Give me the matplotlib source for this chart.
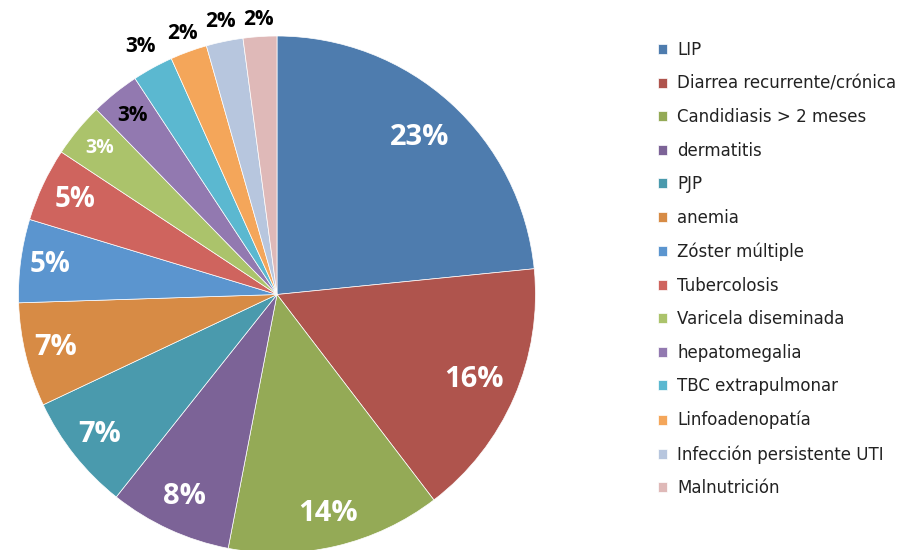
import numpy as np
import matplotlib.pyplot as plt

categorias = ['LIP', 'Diarrea recurrente/crónica', 'Candidiasis > 2 meses', 'dermatitis',
              'PJP', 'anemia', 'Zóster múltiple', 'Tubercolosis', 'Varicela diseminada',
              'hepatomegalia', 'TBC extrapulmonar', 'Linfoadenopatía',
              'Infección persistente UTI', 'Malnutrición']
# tamaño de cada sector y etiqueta mostrada
valores = [23.4, 16.2, 13.4, 7.65, 7.3, 6.5, 5.2, 4.6, 3.4, 3.05, 2.55, 2.3, 2.3, 2.1]
etiquetas = ['23%', '16%', '14%', '8%', '7%', '7%', '5%', '5%', '3%', '3%', '3%', '2%', '2%', '2%']
colores = ['#4E7CAE', '#AF544D', '#94AA56', '#7C6397', '#4A9AAD', '#D78B45', '#5B95CF',
           '#CF645E', '#ABC36B', '#9279B0', '#5BB8D0', '#F4A65A', '#B7C6DE', '#DFB9B8']

# posicion / estilo de cada etiqueta
dist_etq = [0.82, 0.83, 0.87, 0.86, 0.875, 0.88, 0.885, 0.865, 0.89, 0.89, 1.095, 1.075, 1.08, 1.065]
color_etq = ['white'] * 9 + ['black'] * 5
tam_etq = [21, 21, 21, 21, 21, 21, 20, 20, 14, 15, 15, 15, 15, 15]

fig = plt.figure(figsize=(9.02, 5.5), dpi=100)
ax = fig.add_axes([18.5 / 902, -3 / 550, 517 / 902, 517 / 550])

wedges, _ = ax.pie(valores, colors=colores, startangle=90, counterclock=False,
                   wedgeprops=dict(edgecolor='white', linewidth=0.5))
ax.set_xlim(-1, 1)
ax.set_ylim(-1, 1)
ax.set_aspect('equal')

acum = np.cumsum(valores) / sum(valores) * 100
for i, v in enumerate(valores):
    ang = np.deg2rad(90 - 360 * (acum[i] - v / 2) / 100)
    r = dist_etq[i]
    ax.text(r * np.cos(ang), r * np.sin(ang), etiquetas[i], ha='center', va='center',
            color=color_etq[i], fontsize=tam_etq[i], fontweight='bold', family='Open Sans')

leg = fig.legend(wedges, categorias, loc='upper left', bbox_to_anchor=(643 / 902, 1 - 26 / 550),
                 frameon=False, handlelength=0.55, handleheight=0.55, handletextpad=0.6,
                 labelspacing=0.935, prop={'family': 'DejaVu Sans', 'size': 12})
for t in leg.get_texts():
    t.set_color('#222222')

fig.savefig('out.png', dpi=100)
